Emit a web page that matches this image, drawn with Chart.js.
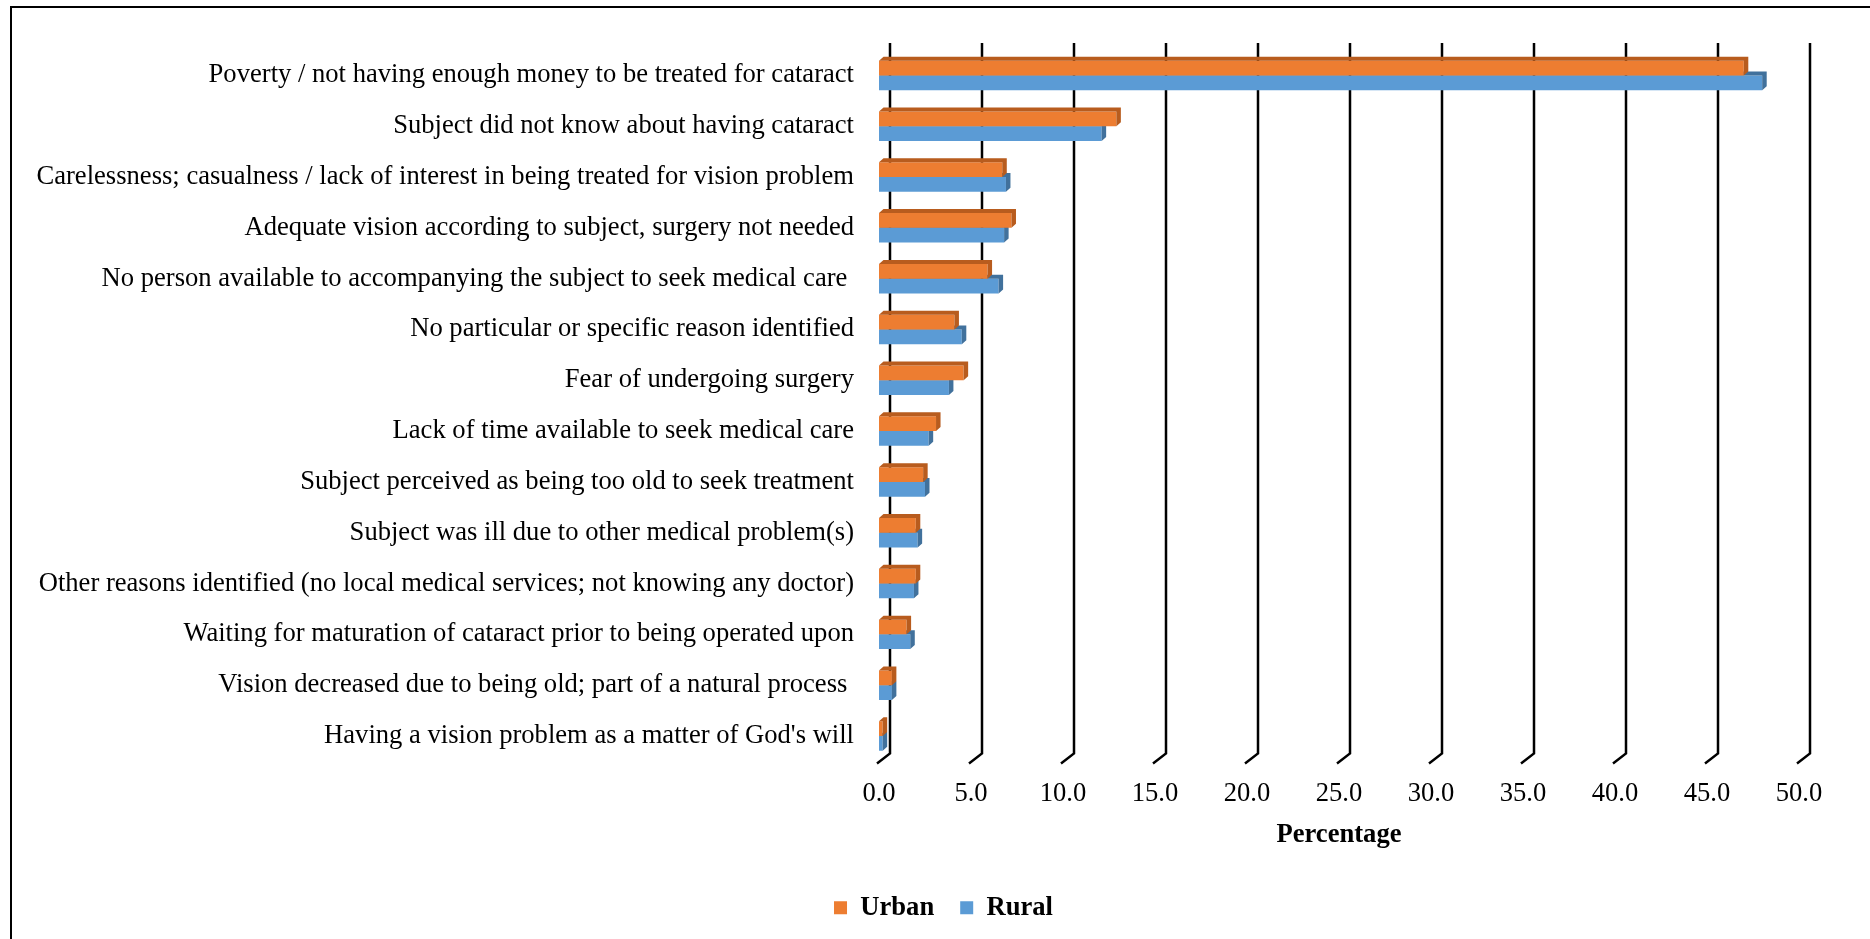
<!DOCTYPE html>
<html>
<head>
<meta charset="utf-8">
<script src="https://cdn.jsdelivr.net/npm/chart.js@4.4.0/dist/chart.umd.min.js"></script>
<style>
    body { margin: 0; background: #fff; }
    #wrap { position: relative; width: 1870px; height: 939px; }
    #frame { position: absolute; left: 10px; top: 6px; right: 0; bottom: 0; border-top: 2px solid #000; border-left: 2px solid #000; pointer-events: none; }
</style>
</head>
<body>
<div id="wrap">
    <canvas id="chart" width="1870" height="939"></canvas>
    <div id="frame"></div>
</div>
<script>
// Reasons (top to bottom)
const reasons = [
    'Poverty / not having enough money to be treated for cataract',
    'Subject did not know about having cataract',
    'Carelessness; casualness / lack of interest in being treated for vision problem',
    'Adequate vision according to subject, surgery not needed',
    'No person available to accompanying the subject to seek medical care ',
    'No particular or specific reason identified',
    'Fear of undergoing surgery',
    'Lack of time available to seek medical care',
    'Subject perceived as being too old to seek treatment',
    'Subject was ill due to other medical problem(s)',
    'Other reasons identified (no local medical services; not knowing any doctor)',
    'Waiting for maturation of cataract prior to being operated upon',
    'Vision decreased due to being old; part of a natural process ',
    "Having a vision problem as a matter of God's will"
];

// Percentages
const urban = [47.0, 12.9, 6.7, 7.2, 5.9, 4.1, 4.6, 3.1, 2.4, 2.0, 2.0, 1.5, 0.7, 0.2];
const rural = [48.0, 12.1, 6.9, 6.8, 6.5, 4.5, 3.8, 2.7, 2.5, 2.1, 1.9, 1.7, 0.7, 0.2];

// Axis ticks
const xTicks = [0, 5, 10, 15, 20, 25, 30, 35, 40, 45, 50];

const FONT = "'Liberation Serif', 'Times New Roman', serif";
const SIZE = 26.6;
const darker = { Urban: '#b85c1e', Rural: '#41719c' };

// back-wall gridlines with the little floor bend, like the 3D Excel look
const gridPlugin = {
    id: 'grid3d',
    afterLayout(chart) {
        // legend sits a bit right of the plot centre in the original
        chart.legend.left += 44;
        chart.legend.right += 44;
    },
    beforeDatasetsDraw(chart) {
        const { ctx, chartArea, scales } = chart;
        ctx.save();
        ctx.strokeStyle = '#000';
        ctx.lineWidth = 2.5;
        xTicks.forEach(v => {
            const x = scales.x.getPixelForValue(v);
            ctx.beginPath();
            ctx.moveTo(x + 11, chartArea.top - 7);
            ctx.lineTo(x + 11, chartArea.bottom - 8);
            ctx.lineTo(x - 2, chartArea.bottom + 2);
            ctx.stroke();
        });
        ctx.restore();
    }
};

// top and side faces of each bar
const depthPlugin = {
    id: 'depth',
    afterDatasetDraw(chart, args) {
        const { ctx } = chart;
        const meta = args.meta;
        const dx = 4.5, dy = 4;
        ctx.save();
        ctx.fillStyle = darker[chart.data.datasets[args.index].label];
        meta.data.forEach(bar => {
            const p = bar.getProps(['x', 'y', 'base', 'height'], true);
            const left = p.base, right = p.x;
            const top = p.y - p.height / 2, bottom = p.y + p.height / 2;
            ctx.beginPath();
            ctx.moveTo(left, top);
            ctx.lineTo(left + dx, top - dy);
            ctx.lineTo(right + dx, top - dy);
            ctx.lineTo(right + dx, bottom - dy);
            ctx.lineTo(right, bottom);
            ctx.lineTo(right, top);
            ctx.closePath();
            ctx.fill();
        });
        ctx.restore();
    }
};

new Chart(document.getElementById('chart'), {
    type: 'bar',
    data: {
        labels: reasons,
        datasets: [
            { label: 'Urban', data: urban, backgroundColor: '#ed7d31' },
            { label: 'Rural', data: rural, backgroundColor: '#5b9bd5' }
        ]
    },
    options: {
        indexAxis: 'y',
        responsive: false,
        animation: false,
        devicePixelRatio: 1,
        categoryPercentage: 0.58,
        barPercentage: 1.0,
        layout: { padding: { top: 50, right: 71, bottom: 8, left: 0 } },
        scales: {
            x: {
                min: 0,
                max: 50,
                afterFit: s => { s.height = 107; },
                afterBuildTicks: s => { s.ticks = xTicks.map(v => ({ value: v })); },
                grid: { display: false, drawTicks: false },
                border: { display: false },
                ticks: {
                    color: '#000',
                    padding: 17,
                    font: { family: FONT, size: SIZE },
                    callback: v => Number(v).toFixed(1)
                },
                title: {
                    display: true,
                    text: 'Percentage',
                    color: '#000',
                    font: { family: FONT, size: SIZE, weight: 'bold' },
                    padding: { top: 0, bottom: 17 }
                }
            },
            y: {
                afterFit: s => { s.width = 879; },
                grid: { display: false, drawTicks: false },
                border: { display: false },
                ticks: {
                    color: '#000',
                    padding: 25,
                    autoSkip: false,
                    font: { family: FONT, size: SIZE }
                }
            }
        },
        plugins: {
            legend: {
                position: 'bottom',
                labels: {
                    color: '#000',
                    boxWidth: 13,
                    boxHeight: 13,
                    padding: 26,
                    font: { family: FONT, size: SIZE, weight: 'bold' }
                }
            },
            tooltip: { enabled: false }
        }
    },
    plugins: [gridPlugin, depthPlugin]
});
</script>
</body>
</html>
